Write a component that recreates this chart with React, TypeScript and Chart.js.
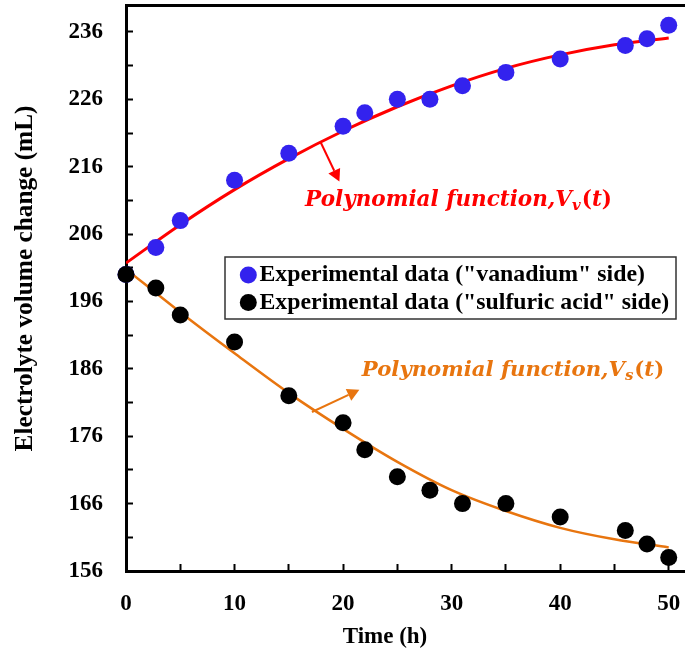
import React, { useEffect, useRef } from 'react';
import { Chart, registerables } from 'chart.js';

Chart.register(...registerables);

// ---- data ----
const timeVanadium = [0, 2.75, 5, 10, 15, 20, 22, 25, 28, 31, 35, 40, 46, 48, 50];
const volumeVanadium = [200, 204, 208, 214, 218, 222, 224, 226, 226, 228, 230, 232, 234, 235, 237];
const timeSulfuric = [0, 2.75, 5, 10, 15, 20, 22, 25, 28, 31, 35, 40, 46, 48, 50];
const volumeSulfuric = [200, 198, 194, 190, 182, 178, 174, 170, 168, 166, 166, 164, 162, 160, 158];
const fitTime = [0, 5, 10, 15, 20, 25, 30, 35, 40, 45, 50];
const fitVanadium = [201.7, 207.4, 212.6, 217.2, 221.3, 224.9, 228.0, 230.6, 232.6, 234.1, 235.1];
const fitSulfuric = [200.8, 194.4, 188.3, 182.4, 177.1, 172.2, 168.0, 164.9, 162.4, 160.7, 159.5];
const xTicks = [0, 5, 10, 15, 20, 25, 30, 35, 40, 45, 50];
const xLabelTicks = [0, 10, 20, 30, 40, 50];
const yTicks = [156, 161, 166, 171, 176, 181, 186, 191, 196, 201, 206, 211, 216, 221, 226, 231, 236];
const yLabelTicks = [156, 166, 176, 186, 196, 206, 216, 226, 236];
const legendLabels = ['Experimental data ("vanadium" side)', 'Experimental data ("sulfuric acid" side)'];
const xTitle = 'Time (h)';
const yTitle = 'Electrolyte volume change (mL)';
const fitLabelMain = 'Polynomial function,V';
const fitSubV = 'v';
const fitSubS = 's';

const BLUE = '#3322ee';
const BLACK = '#000000';
const RED = '#ff0000';
const ORANGE = '#e8750f';
const SERIF = '"Liberation Serif", "Times New Roman", serif';
const MATH = '"DejaVu Serif", serif';

function toPoints(xs: number[], ys: number[]) {
  return xs.map((x, i) => ({ x, y: ys[i] }));
}

function drawArrow(ctx: CanvasRenderingContext2D, x1: number, y1: number, x2: number, y2: number, color: string, width: number) {
  const ang = Math.atan2(y2 - y1, x2 - x1);
  const headLen = 12;
  const headW = 6.5;
  const bx = x2 - headLen * Math.cos(ang);
  const by = y2 - headLen * Math.sin(ang);
  ctx.save();
  ctx.strokeStyle = color;
  ctx.fillStyle = color;
  ctx.lineWidth = width;
  ctx.beginPath();
  ctx.moveTo(x1, y1);
  ctx.lineTo(bx, by);
  ctx.stroke();
  ctx.beginPath();
  ctx.moveTo(x2, y2);
  ctx.lineTo(bx + headW * Math.sin(ang), by - headW * Math.cos(ang));
  ctx.lineTo(bx - headW * Math.sin(ang), by + headW * Math.cos(ang));
  ctx.closePath();
  ctx.fill();
  ctx.restore();
}

function drawFnLabel(ctx: CanvasRenderingContext2D, x: number, y: number, sub: string, color: string, size: number) {
  ctx.save();
  ctx.fillStyle = color;
  ctx.textBaseline = 'alphabetic';
  ctx.textAlign = 'left';
  ctx.font = `italic bold ${size}px ${MATH}`;
  ctx.fillText(fitLabelMain, x, y);
  let w = ctx.measureText(fitLabelMain).width;
  const subSize = Math.round(size * 0.7);
  ctx.font = `italic bold ${subSize}px ${MATH}`;
  ctx.fillText(sub, x + w, y + 4);
  w += ctx.measureText(sub).width + 1;
  ctx.font = `bold ${size}px ${MATH}`;
  ctx.fillText('(', x + w, y);
  w += ctx.measureText('(').width;
  ctx.font = `italic bold ${size}px ${MATH}`;
  ctx.fillText('t', x + w, y);
  w += ctx.measureText('t').width;
  ctx.font = `bold ${size}px ${MATH}`;
  ctx.fillText(')', x + w, y);
  ctx.restore();
}

const decorPlugin = {
  id: 'decor',
  afterDatasetsDraw(chart: any) {
    const ctx: CanvasRenderingContext2D = chart.ctx;
    const xs = chart.scales.x;
    const ys = chart.scales.y;
    const px = (v: number) => xs.getPixelForValue(v);
    const py = (v: number) => ys.getPixelForValue(v);

    // annotation arrows and labels
    drawArrow(ctx, px(17.9), py(219.75), px(19.66), py(213.8), RED, 2);
    drawFnLabel(ctx, px(16.5), py(210.2), fitSubV, RED, 21.5);
    drawArrow(ctx, px(17.13), py(179.6), px(21.5), py(182.9), ORANGE, 2);
    drawFnLabel(ctx, px(21.73), py(185.0), fitSubS, ORANGE, 21.2);

    // legend box
    ctx.save();
    const lx = 225, ly = 257, lw = 451, lh = 62;
    ctx.fillStyle = '#ffffff';
    ctx.fillRect(lx, ly, lw, lh);
    ctx.strokeStyle = '#333333';
    ctx.lineWidth = 1.5;
    ctx.strokeRect(lx, ly, lw, lh);
    const colors = [BLUE, BLACK];
    const rowsY = [275, 302.5];
    ctx.font = `bold 23.8px ${SERIF}`;
    ctx.textBaseline = 'middle';
    ctx.textAlign = 'left';
    legendLabels.forEach((t, i) => {
      ctx.fillStyle = colors[i];
      ctx.beginPath();
      ctx.arc(248.3, rowsY[i], 8.5, 0, Math.PI * 2);
      ctx.fill();
      ctx.fillStyle = '#000';
      ctx.fillText(t, 259.5, rowsY[i]);
    });
    ctx.restore();

    // axis titles
    ctx.save();
    ctx.fillStyle = '#000';
    ctx.textAlign = 'center';
    ctx.textBaseline = 'middle';
    ctx.font = `bold 23px ${SERIF}`;
    ctx.fillText(xTitle, 385, 637);
    ctx.font = `bold 25.3px ${SERIF}`;
    ctx.translate(25, 278.5);
    ctx.rotate(-Math.PI / 2);
    ctx.fillText(yTitle, 0, 0);
    ctx.restore();
  },
};

const zeroPadding = (s: any) => {
  s.paddingTop = 0;
  s.paddingBottom = 0;
  s.paddingLeft = 0;
  s.paddingRight = 0;
};

export default function App() {
  const ref = useRef<HTMLCanvasElement | null>(null);

  useEffect(() => {
    if (!ref.current) return;
    const tickFont = { family: SERIF, size: 23, weight: 'bold' as const };
    const chart = new Chart(ref.current, {
      type: 'scatter',
      data: {
        datasets: [
          {
            type: 'scatter',
            label: legendLabels[1],
            data: toPoints(timeSulfuric, volumeSulfuric),
            backgroundColor: BLACK,
            borderWidth: 0,
            pointRadius: 8.5,
            clip: false as any,
          },
          {
            type: 'scatter',
            label: legendLabels[0],
            data: toPoints(timeVanadium, volumeVanadium),
            backgroundColor: BLUE,
            borderWidth: 0,
            pointRadius: 8.5,
            clip: false as any,
          },
          {
            type: 'line',
            label: 'Vv fit',
            data: toPoints(fitTime, fitVanadium),
            borderColor: RED,
            borderWidth: 3,
            pointRadius: 0,
            showLine: true,
            fill: false,
            cubicInterpolationMode: 'monotone',
          },
          {
            type: 'line',
            label: 'Vs fit',
            data: toPoints(fitTime, fitSulfuric),
            borderColor: ORANGE,
            borderWidth: 2.5,
            pointRadius: 0,
            showLine: true,
            fill: false,
            cubicInterpolationMode: 'monotone',
          },
        ] as any,
      },
      options: {
        animation: false,
        responsive: false,
        devicePixelRatio: 1,
        layout: { autoPadding: false, padding: { left: 0, right: 0, top: 5, bottom: 0 } },
        plugins: {
          legend: { display: false },
          tooltip: { enabled: false },
          title: { display: false },
        },
        scales: {
          x: {
            type: 'linear',
            position: 'bottom',
            min: 0,
            max: 51.5,
            afterBuildTicks: (s: any) => {
              s.ticks = xTicks.map((v) => ({ value: v }));
            },
            afterFit: (s: any) => {
              s.height = 88;
              zeroPadding(s);
            },
            grid: {
              display: true,
              drawOnChartArea: false,
              drawTicks: true,
              tickLength: -7,
              tickWidth: 2,
              tickColor: '#000',
            },
            border: { display: true, width: 3, color: '#000' },
            ticks: {
              padding: 26,
              color: '#000',
              font: tickFont,
              autoSkip: false,
              maxRotation: 0,
              callback: (v: any) => (xLabelTicks.includes(Number(v)) ? String(v) : ''),
            },
          },
          x2: {
            type: 'linear',
            position: 'top',
            min: 0,
            max: 51.5,
            afterFit: (s: any) => {
              s.height = 0;
              zeroPadding(s);
            },
            grid: { display: true, drawOnChartArea: false, drawTicks: false },
            border: { display: true, width: 3, color: '#000' },
            ticks: { display: false },
          },
          y: {
            type: 'linear',
            position: 'left',
            min: 156,
            max: 240,
            afterBuildTicks: (s: any) => {
              s.ticks = yTicks.map((v) => ({ value: v }));
            },
            afterFit: (s: any) => {
              s.width = 126;
              zeroPadding(s);
            },
            grid: {
              display: true,
              drawOnChartArea: false,
              drawTicks: true,
              tickLength: -7,
              tickWidth: 2,
              tickColor: '#000',
            },
            border: { display: true, width: 3, color: '#000' },
            ticks: {
              padding: 30,
              color: '#000',
              font: tickFont,
              autoSkip: false,
              callback: (v: any) => (yLabelTicks.includes(Number(v)) ? String(v) : ''),
            },
          },
        },
      } as any,
      plugins: [decorPlugin],
    });
    return () => chart.destroy();
  }, []);

  return (
    <div style={{ position: 'fixed', left: 0, top: 0, width: 685, height: 659, background: '#ffffff' }}>
      <canvas ref={ref} width={685} height={659} style={{ display: 'block', width: 685, height: 659 }} />
    </div>
  );
}
